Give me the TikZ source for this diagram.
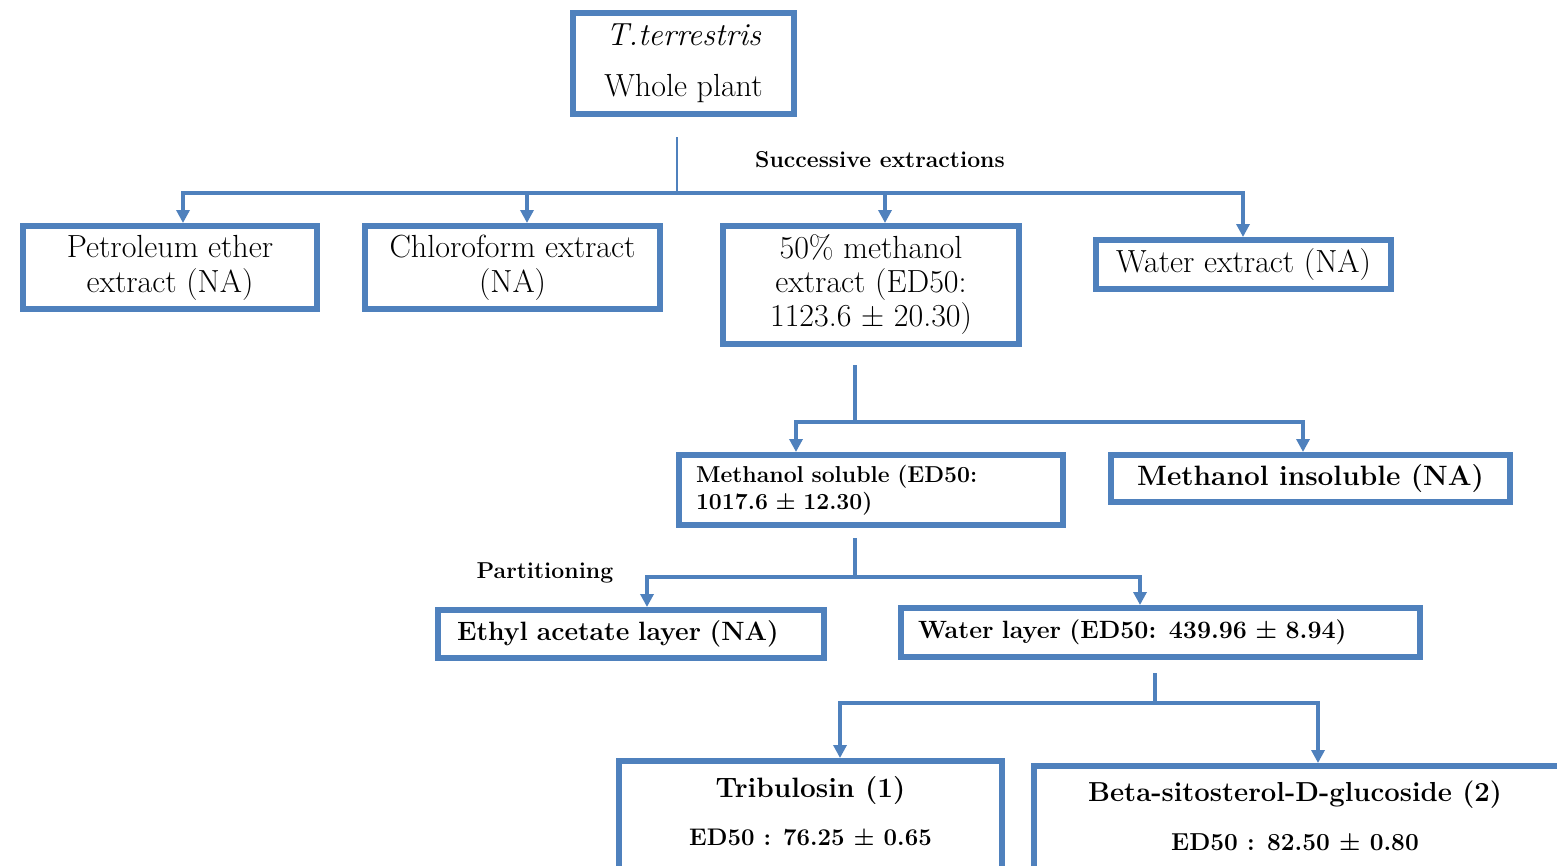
\documentclass[tikz,border=0pt]{standalone}
\usetikzlibrary{arrows.meta}
\definecolor{bl}{HTML}{4F81BD}
\begin{document}
\begin{tikzpicture}[x=1pt,y=-1pt,
 box/.style={draw=bl, line width=6pt, inner sep=0pt, align=center},
 bus/.style={draw=bl, line width=4.5pt, line cap=rect},
 thin/.style={draw=bl, line width=2pt},
 arr/.style={draw=bl, line width=4pt, -{Triangle[width=13pt,length=13pt]}},
 reg/.style={font=\fontsize{32}{35}\selectfont},
 lbl/.style={font=\bfseries\fontsize{23}{26}\selectfont},
]
\path[clip] (0,0) rectangle (1557,865);
\fill[white] (0,0) rectangle (1557,865);

% boxes
\node[box, minimum width=221pt, minimum height=101pt, font=\fontsize{32}{51}\selectfont] (top) at (683.5,63.5) {{\itshape T.terrestris}\\Whole plant};
\node[box, reg, minimum width=294pt, minimum height=83pt] (pet) at (170,267.5) {Petroleum ether\\extract (NA)};
\node[box, reg, minimum width=295pt, minimum height=83pt] (chl) at (512.5,267.5) {Chloroform extract\\(NA)};
\node[box, reg, minimum width=296pt, minimum height=118pt, font=\fontsize{32}{34}\selectfont] (m50) at (871,285) {50\% methanol\\extract (ED50:\\1123.6 \textpm{} 20.30)};
\node[box, reg, minimum width=295pt, minimum height=49pt] (wat) at (1243.5,264.5) {Water extract (NA)};

\node[box, minimum width=384pt, minimum height=70pt, text width=350pt, align=left, font=\bfseries\fontsize{23}{27}\selectfont] (msol) at (871,490) {Methanol soluble (ED50:\\1017.6 \textpm{} 12.30)};
\node[box, minimum width=399pt, minimum height=47pt, font=\bfseries\fontsize{28}{30}\selectfont] (minsol) at (1310.5,478.5) {Methanol insoluble (NA)};

\node[box, minimum width=386pt, minimum height=48pt, text width=348pt, align=left, font=\bfseries\fontsize{26.5}{28}\selectfont] (ethyl) at (631,634) {Ethyl acetate layer (NA)};
\node[box, minimum width=519pt, minimum height=49pt, text width=485pt, align=left, font=\bfseries\fontsize{25}{28}\selectfont] (wlay) at (1160.5,632.5) {Water layer (ED50: 439.96 \textpm{} 8.94)};

\node[box, minimum width=383pt, minimum height=139pt] (trib) at (810.5,830.5) {};
\node[font=\bfseries\fontsize{24}{48}\selectfont, align=center] (tribt) at (810.5,811) {{\fontsize{28}{48}\selectfont Tribulosin (1)}\\ED50 : 76.25 \textpm{} 0.65};
\node[box, minimum width=546pt, minimum height=134pt] (beta) at (1307,833) {};
\node[font=\bfseries\fontsize{24.5}{49}\selectfont, align=center] (betat) at (1295,815.5) {{\fontsize{27.5}{49}\selectfont Beta-sitosterol-D-glucoside (2)}\\ED50 : 82.50 \textpm{} 0.80};

% labels
\node[lbl] (se) at (880,160) {Successive extractions};
\node[lbl] (part) at (545,573) {Partitioning};

% level 1
\coordinate (t0) at (677,137);
\coordinate (t1) at (677,193);
\coordinate (b1) at (183,193);
\coordinate (b2) at (527,193);
\coordinate (b3) at (885,193);
\coordinate (b4) at (1243,193);
\draw[thin] (t0) -- (t1);
\draw[bus] (b1) -- (b4);
\draw[arr] (b1) -- (b1 |- pet.north);
\draw[arr] (b2) -- (b2 |- chl.north);
\draw[arr] (b3) -- (b3 |- m50.north);
\draw[arr] (b4) -- (b4 |- wat.north);

% level 2
\coordinate (c0) at (855,367);
\coordinate (c1) at (855,422);
\coordinate (c2) at (796,422);
\coordinate (c3) at (1303,422);
\draw[bus] (c0) -- (c1);
\draw[bus] (c2) -- (c3);
\draw[arr] (c2) -- (c2 |- msol.north);
\draw[arr] (c3) -- (c3 |- minsol.north);

% level 3
\coordinate (d0) at (855,540);
\coordinate (d1) at (855,577);
\coordinate (d2) at (647,577);
\coordinate (d3) at (1140,577);
\draw[bus] (d0) -- (d1);
\draw[bus] (d2) -- (d3);
\draw[arr] (d2) -- (d2 |- ethyl.north);
\draw[arr] (d3) -- (d3 |- wlay.north);

% level 4
\coordinate (e0) at (1155,675);
\coordinate (e1) at (1155,703);
\coordinate (e2) at (840,703);
\coordinate (e3) at (1318,703);
\draw[bus] (e0) -- (e1);
\draw[bus] (e2) -- (e3);
\draw[arr] (e2) -- (e2 |- trib.north);
\draw[arr] (e3) -- (e3 |- beta.north);
\end{tikzpicture}
\end{document}
